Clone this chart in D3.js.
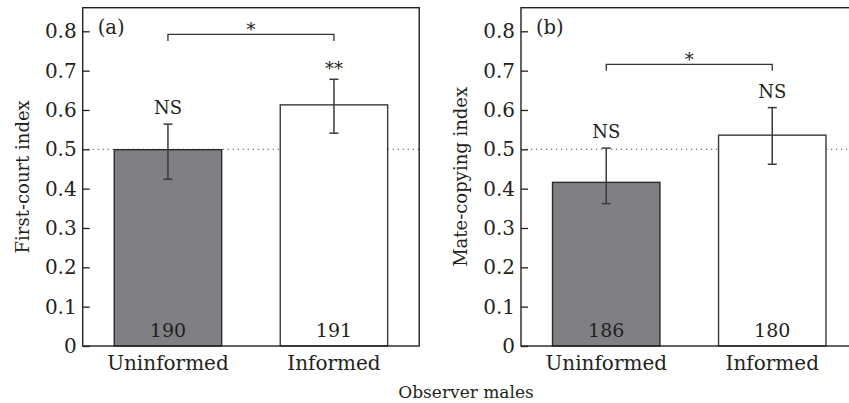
<!DOCTYPE html>
<html>
<head>
<meta charset="utf-8">
<script src="https://cdn.jsdelivr.net/npm/d3@7"></script>
<style>
  body { margin: 0; background: #fff; }
  svg text { font-family: "DejaVu Serif", serif; fill: #231f20; }
</style>
</head>
<body>
<div id="chart"></div>
<script>
// Observer males: first-court index (a) and mate-copying index (b)
const groups = ["Uninformed", "Informed"];
const yTicks = [0, 0.1, 0.2, 0.3, 0.4, 0.5, 0.6, 0.7, 0.8];

const firstCourtMean = [0.499, 0.613];
const firstCourtLow = [0.424, 0.541];
const firstCourtHigh = [0.564, 0.678];
const firstCourtN = [190, 191];
const firstCourtSig = ["NS", "**"];
const firstCourtBracket = 0.792;

const mateCopyMean = [0.416, 0.536];
const mateCopyLow = [0.362, 0.462];
const mateCopyHigh = [0.503, 0.606];
const mateCopyN = [186, 180];
const mateCopySig = ["NS", "NS"];
const mateCopyBracket = 0.716;

const W = 849, H = 403;
const svg = d3.select("#chart").append("svg")
    .attr("width", W)
    .attr("height", H);

const y = d3.scaleLinear()
    .domain([0, 0.86])
    .range([346, 7.7]);

function drawPanel(left, letter, yLabel, mean, low, high, n, sig, bracket) {
    let panelW = 336.5;
    let x = d3.scaleBand()
        .domain(groups)
        .range([left, left + panelW])
        .paddingInner(0.353)
        .paddingOuter(0.19);

    let g = svg.append("g");

    // reference line at 0.5
    g.append("line")
        .attr("x1", left).attr("x2", left + panelW)
        .attr("y1", y(0.5)).attr("y2", y(0.5))
        .attr("stroke", "#444")
        .attr("stroke-width", 1.1)
        .attr("stroke-dasharray", "1.2,3.8");

    // bars
    g.selectAll(".bar")
        .data(groups)
        .enter()
        .append("rect")
        .attr("x", d => x(d))
        .attr("y", (d, i) => y(mean[i]))
        .attr("width", x.bandwidth())
        .attr("height", (d, i) => y(0) - y(mean[i]))
        .attr("fill", (d, i) => i === 0 ? "#808084" : "#fff")
        .attr("stroke", (d, i) => i === 0 ? "#2a2a2a" : "#3a3a3a")
        .attr("stroke-width", 1.4);

    // error bars
    let cap = 4.5;
    groups.forEach((d, i) => {
        let cx = x(d) + x.bandwidth() / 2;
        g.append("line")
            .attr("x1", cx).attr("x2", cx)
            .attr("y1", y(low[i])).attr("y2", y(high[i]))
            .attr("stroke", "#3a3a3a").attr("stroke-width", 1.5);
        [low[i], high[i]].forEach(v => {
            g.append("line")
                .attr("x1", cx - cap).attr("x2", cx + cap)
                .attr("y1", y(v)).attr("y2", y(v))
                .attr("stroke", "#3a3a3a").attr("stroke-width", 1.5);
        });
        // significance label over error bar
        g.append("text")
            .attr("x", cx)
            .attr("y", y(high[i]) - (sig[i] === "NS" ? 10 : 4))
            .attr("text-anchor", "middle")
            .style("font-size", "18px")
            .text(sig[i]);
        // sample size
        g.append("text")
            .attr("x", cx)
            .attr("y", 336.5)
            .attr("text-anchor", "middle")
            .style("font-size", "19px")
            .text(n[i]);
    });

    // bracket between groups
    let bx0 = x(groups[0]) + x.bandwidth() / 2;
    let bx1 = x(groups[1]) + x.bandwidth() / 2;
    let by = y(bracket), drop = 6.5;
    g.append("path")
        .attr("d", `M${bx0},${by + drop}V${by}H${bx1}V${by + drop}`)
        .attr("fill", "none")
        .attr("stroke", "#333")
        .attr("stroke-width", 1.3);
    g.append("text")
        .attr("x", (bx0 + bx1) / 2)
        .attr("y", by + 1.5)
        .attr("text-anchor", "middle")
        .style("font-size", "18px")
        .text("*");

    // frame
    g.append("rect")
        .attr("x", left).attr("y", y.range()[1])
        .attr("width", panelW)
        .attr("height", y.range()[0] - y.range()[1])
        .attr("fill", "none")
        .attr("stroke", "#222")
        .attr("stroke-width", 1.4);

    // y axis with inward ticks
    let yAxis = g.append("g")
        .attr("transform", `translate(${left},0)`)
        .call(d3.axisLeft(y)
            .tickValues(yTicks)
            .tickSizeInner(-7)
            .tickSizeOuter(0)
            .tickPadding(6)
            .tickFormat(d => d === 0 ? "0" : d.toFixed(1)));
    yAxis.select(".domain").remove();
    yAxis.selectAll(".tick line").attr("stroke", "#222").attr("stroke-width", 1.3);
    yAxis.selectAll(".tick text")
        .style("font-family", "DejaVu Serif, serif")
        .style("font-size", "20px")
        .attr("fill", "#231f20");

    // x axis labels
    let xAxis = g.append("g")
        .attr("transform", `translate(0,${y(0)})`)
        .call(d3.axisBottom(x).tickSize(0).tickPadding(10));
    xAxis.select(".domain").remove();
    xAxis.selectAll(".tick text")
        .style("font-family", "DejaVu Serif, serif")
        .style("font-size", "20px")
        .attr("fill", "#231f20");

    // panel letter
    g.append("text")
        .attr("x", left + 15)
        .attr("y", 33.5)
        .style("font-size", "19.5px")
        .text(letter);

    // y title
    g.append("text")
        .attr("transform", `translate(${left - 54},${(y.range()[0] + y.range()[1]) / 2}) rotate(-90)`)
        .attr("text-anchor", "middle")
        .style("font-size", "18px")
        .text(yLabel);
}

drawPanel(82.7, "(a)", "First-court index",
    firstCourtMean, firstCourtLow, firstCourtHigh, firstCourtN, firstCourtSig, firstCourtBracket);
drawPanel(521, "(b)", "Mate-copying index",
    mateCopyMean, mateCopyLow, mateCopyHigh, mateCopyN, mateCopySig, mateCopyBracket);

// shared x title
svg.append("text")
    .attr("x", 466)
    .attr("y", 398)
    .attr("text-anchor", "middle")
    .style("font-size", "17px")
    .text("Observer males");
</script>
</body>
</html>
